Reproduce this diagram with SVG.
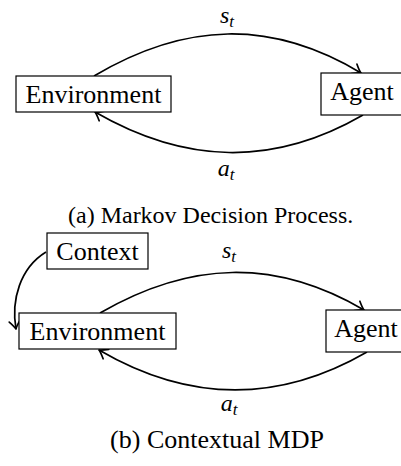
<svg xmlns="http://www.w3.org/2000/svg" width="401" height="466" viewBox="0 0 401 466">
<style>
.box{fill:#fff;stroke:#000;stroke-width:1.2}
.lbl{font-family:"Liberation Serif","Times New Roman",serif;font-size:26px;fill:#000}
.cap{font-family:"Liberation Serif","Times New Roman",serif;font-size:24px;fill:#000}
.capb{font-size:26px}
.math{font-family:"Liberation Serif","Times New Roman",serif;font-style:italic;font-size:24px;fill:#000}
.sub{font-size:17px}
.edge{fill:none;stroke:#000;stroke-width:1.7}
</style>
<defs>
<marker id="arr" markerUnits="userSpaceOnUse" markerWidth="16" markerHeight="16" viewBox="-10 -8 12 16" refX="0" refY="0" orient="auto" overflow="visible">
<path d="M-8,-5.5 Q-2.5,-1 0,0 Q-2.5,1 -8,5.5" fill="none" stroke="#000" stroke-width="1.7" stroke-linecap="round" stroke-linejoin="round"/>
</marker>
</defs>
<rect width="401" height="466" fill="#fff"/>

<g id="connectors">
<path class="edge" d="M94,76 C185,22 271,19 361,73" marker-end="url(#arr)"/>
<path class="edge" d="M363,115 C273,167 185,164 95,112" marker-end="url(#arr)"/>
<path class="edge" d="M100,313 C190,261 275,258 364,310" marker-end="url(#arr)"/>
<path class="edge" d="M367,352 C277,404 188,402 99,350" marker-end="url(#arr)"/>
<path class="edge" d="M46,252 C20,268 11,300 16,329" marker-end="url(#arr)"/>
</g>

<g id="env-a">
<rect class="box" x="16" y="76" width="155" height="36"/>
<text class="lbl" x="93.5" y="103" text-anchor="middle">Environment</text>
</g>
<g id="agent-a">
<rect class="box" x="321" y="73" width="82" height="42"/>
<text class="lbl" x="362" y="100" text-anchor="middle">Agent</text>
</g>
<g id="label-st-a">
<text class="math" x="227" y="23" text-anchor="middle">s<tspan class="sub" dy="4">t</tspan></text>
</g>
<g id="label-at-a">
<text class="math" x="226" y="176" text-anchor="middle">a<tspan class="sub" dy="4">t</tspan></text>
</g>
<g id="caption-a">
<text class="cap" x="68" y="223">(a) Markov Decision Process.</text>
</g>

<g id="context-b">
<rect class="box" x="47" y="233" width="101" height="36"/>
<text class="lbl" x="97.5" y="260" text-anchor="middle">Context</text>
</g>
<g id="env-b">
<rect class="box" x="19" y="313" width="157" height="36"/>
<text class="lbl" x="97.5" y="340" text-anchor="middle">Environment</text>
</g>
<g id="agent-b">
<rect class="box" x="326" y="310" width="82" height="42"/>
<text class="lbl" x="366" y="337" text-anchor="middle">Agent</text>
</g>
<g id="label-st-b">
<text class="math" x="229" y="258" text-anchor="middle">s<tspan class="sub" dy="4">t</tspan></text>
</g>
<g id="label-at-b">
<text class="math" x="229" y="411" text-anchor="middle">a<tspan class="sub" dy="4">t</tspan></text>
</g>
<g id="caption-b">
<text class="cap capb" x="217" y="448" text-anchor="middle">(b) Contextual MDP</text>
</g>
</svg>
